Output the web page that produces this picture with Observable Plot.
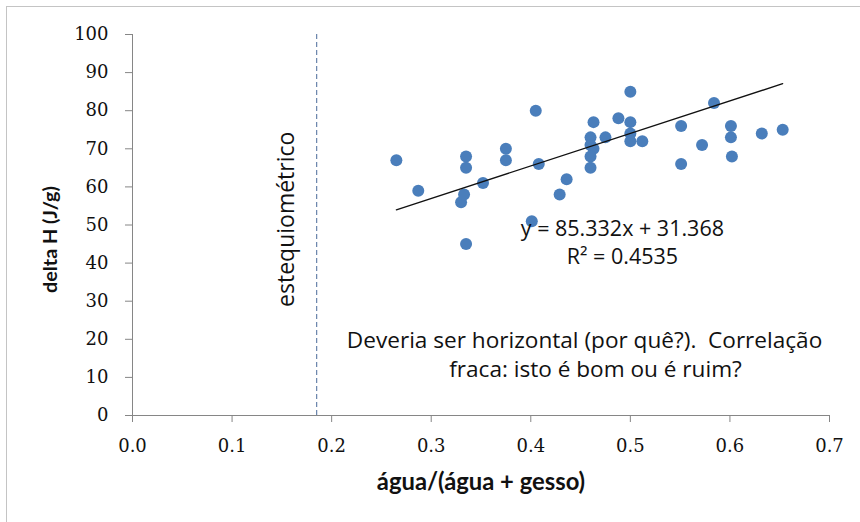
<!DOCTYPE html>
<html>
<head>
<meta charset="utf-8">
<script src="https://cdn.jsdelivr.net/npm/d3@7"></script>
<script src="https://cdn.jsdelivr.net/npm/@observablehq/plot@0.6"></script>
<style>
  html, body { margin: 0; padding: 0; background: #fff; }
  #wrap { position: relative; width: 860px; height: 522px; }
  #frame { position: absolute; left: 6px; top: 6px; width: 860px; height: 522px;
           border-left: 1px solid #c4c4c4; border-top: 1px solid #c4c4c4; pointer-events: none; }
</style>
</head>
<body>
<div id="wrap"><div id="frame"></div></div>
<script>
// ---- data ----
const ratio = [0.265, 0.287, 0.330, 0.333, 0.335, 0.335, 0.335, 0.352, 0.375, 0.375,
               0.401, 0.405, 0.408, 0.429, 0.436, 0.460, 0.460, 0.463, 0.460, 0.460,
               0.463, 0.475, 0.488, 0.500, 0.500, 0.500, 0.500, 0.512, 0.551, 0.551,
               0.572, 0.584, 0.601, 0.601, 0.602, 0.632, 0.653];
const deltaH = [67, 59, 56, 58, 65, 68, 45, 61, 70, 67,
                51, 80, 66, 58, 62, 73, 71, 70, 68, 65,
                77, 73, 78, 85, 77, 74, 72, 72, 76, 66,
                71, 82, 76, 73, 68, 74, 75];
const slope = [85.332];
const intercept = [31.368];
const stoichiometric = [0.185];
const xTicks = [0, 0.1, 0.2, 0.3, 0.4, 0.5, 0.6, 0.7];
const yTicks = [0, 10, 20, 30, 40, 50, 60, 70, 80, 90, 100];
const eqLabels = ["y = 85.332x + 31.368", "R² = 0.4535"];
const stoichLabel = ["estequiométrico"];
const noteLines = ["Deveria ser horizontal (por quê?).  Correlação", "fraca: isto é bom ou é ruim?"];
const xTitle = "água/(água + gesso)";
const yTitle = "delta H (J/g)";

// ---- derived tables ----
const points = ratio.map((x, i) => ({x, y: deltaH[i]}));
const xMin = d3.min(ratio), xMax = d3.max(ratio);
const trend = [xMin, xMax].map(x => ({x, y: slope[0] * x + intercept[0]}));

const sans = "'Open Sans', Lato, sans-serif";
const bold = "Lato, 'Open Sans', sans-serif";
const serif = "'DejaVu Serif', serif";
const gray = "#868686";

const chart = Plot.plot({
  width: 860,
  height: 522,
  marginLeft: 132,
  marginRight: 31,
  marginTop: 34,
  marginBottom: 107,
  style: {background: "transparent", overflow: "visible"},
  x: {domain: [0, 0.7]},
  y: {domain: [0, 100]},
  marks: [
    // stoichiometric dashed line
    Plot.ruleX(stoichiometric, {x: d => d, y1: 0, y2: 100, stroke: "#4a6a9a", strokeWidth: 1, strokeDasharray: "5,3"}),
    Plot.text(stoichLabel, {x: stoichiometric[0] - 0.030, y: 51.5, text: d => d, rotate: -90,
      fontFamily: sans, fontSize: 23, fill: "#111", textAnchor: "middle"}),
    // axes lines
    Plot.ruleY([0], {stroke: gray, strokeWidth: 1}),
    Plot.ruleX([0], {y1: 0, y2: 100, stroke: gray, strokeWidth: 1}),
    // tick marks & labels
    Plot.axisX({ticks: xTicks, tickFormat: d3.format(".1f"), tickSize: 7, tickPadding: 17,
      stroke: gray, fill: "#111", fontFamily: serif, fontSize: 18, label: null}),
    Plot.axisY({ticks: yTicks, tickSize: 7, tickPadding: 17,
      stroke: gray, fill: "#111", fontFamily: serif, fontSize: 18, label: null}),
    // axis titles
    Plot.axisX({ticks: [], tickSize: 0, label: xTitle, labelAnchor: "center", labelArrow: "none",
      labelOffset: 74, fontFamily: bold, fontSize: 23.8, fontWeight: "bold", fill: "#111"}),
    Plot.text([yTitle], {frameAnchor: "left", y: 46.2, dx: -82, rotate: -90, text: d => d,
      fontFamily: bold, fontSize: 19.8, fontWeight: "bold", fill: "#111", textAnchor: "middle"}),
    // data points
    Plot.dot(points, {x: "x", y: "y", r: 6, fill: "#4a7ebb", stroke: "none"}),
    // trend line
    Plot.line(trend, {x: "x", y: "y", stroke: "#111", strokeWidth: 1.3}),
    // equation
    Plot.text(eqLabels, {x: 0.492, y: (d, i) => [48.8, 41.7][i], text: d => d,
      fontFamily: sans, fontSize: 21.5, fill: "#111", textAnchor: "middle"}),
    // note
    Plot.text(noteLines, {x: (d, i) => [0.454, 0.465][i], y: (d, i) => [19.7, 12.1][i], text: d => d,
      fontFamily: sans, fontSize: 22.6, fill: "#111", textAnchor: "middle"})
  ]
});
document.getElementById("wrap").prepend(chart);
</script>
</body>
</html>
